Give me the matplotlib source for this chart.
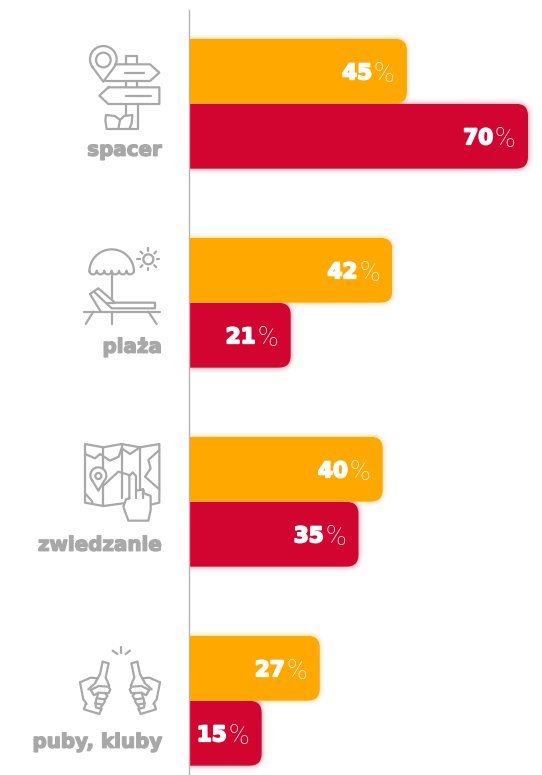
import math
import matplotlib
matplotlib.use("Agg")
import matplotlib.pyplot as plt
import matplotlib.patheffects as pe
from matplotlib.patches import FancyBboxPatch, Circle, Rectangle, Polygon

categories = ["spacer", "plaża", "zwiedzanie", "puby, kluby"]
orange_values = [45, 42, 40, 27]
red_values = [70, 21, 35, 15]

W, H = 542, 775
ORANGE, RED, GRAY = "#FFA800", "#D20530", "#A8A8A8"
PX_PER_UNIT = 4.843
PERIOD = 199.0
X0, Y0 = 189.0, 103.75
BAR_H = 64.8 / PERIOD
RADIUS_PX = 12.0

fig = plt.figure(figsize=(W / 100, H / 100), dpi=100, facecolor="white")
ax = fig.add_axes([0, 0, 1, 1])
ax.set_xlim(-X0 / PX_PER_UNIT, (W - X0) / PX_PER_UNIT)
ax.set_ylim((H - Y0) / PERIOD, -Y0 / PERIOD)
ax.set_xticks([]); ax.set_yticks([])
ax.patch.set_alpha(0)
for s in ("top", "right", "bottom"):
    ax.spines[s].set_visible(False)
ax.spines["left"].set_position(("data", 0))
ax.spines["left"].set_bounds((10 - Y0) / PERIOD, (H - Y0) / PERIOD)
ax.spines["left"].set_color("#B4B4B4")
ax.spines["left"].set_linewidth(1.0)
ax.spines["left"].set_zorder(6)

rx = RADIUS_PX / PX_PER_UNIT
ry = RADIUS_PX / PERIOD
aspect = ry / rx
right_of_axis = Rectangle((0, -2), 200, 10, transform=ax.transData)


def rounded(value, yc, grow_px=0.0, **kw):
    gx = grow_px / PX_PER_UNIT
    gy = grow_px / PERIOD
    return FancyBboxPatch(
        (-20, yc - BAR_H / 2 - gy), value + 20 + gx, BAR_H + 2 * gy,
        boxstyle=f"round,pad=0,rounding_size={rx + gx}",
        mutation_aspect=aspect, **kw)


def draw_series(values, offset, color):
    ys = [i + offset for i in range(len(values))]
    for v, y in zip(values, ys):
        for g, a in ((5, 0.035), (3.5, 0.05), (2, 0.07), (1, 0.09)):
            p = rounded(v, y, g, fc=color, ec="none", alpha=a, zorder=1)
            ax.add_patch(p)
            p.set_clip_path(right_of_axis)
    bars = ax.barh(ys, values, height=BAR_H, color=color, zorder=2)
    for b, v, y in zip(bars, values, ys):
        b.set_clip_path(rounded(v, y, 0, transform=ax.transData))
    for v, y in zip(values, ys):
        ax.annotate("%", (v, y), xytext=(-12.5, 0), textcoords="offset pixels",
                    ha="right", va="center_baseline", color="white", fontsize=20,
                    family="Roboto", weight="light", zorder=5)
        t = ax.annotate(str(v), (v, y), xytext=(-35, 0), textcoords="offset pixels",
                        ha="right", va="center_baseline", color="white", fontsize=15.5,
                        family="DejaVu Sans", weight="bold", zorder=5)
        t.set_path_effects([pe.withStroke(linewidth=1.3, foreground="white")])


draw_series(orange_values, -0.1633, ORANGE)
draw_series(red_values, 0.1633, RED)

LABEL_DY = [44.5, 42.5, 41.5, 39.5]
for i, c in enumerate(categories):
    t = ax.annotate(c, (0, i), xytext=(-27, -LABEL_DY[i]), textcoords="offset pixels",
                    ha="right", va="center_baseline", color=GRAY, fontsize=14.3,
                    family="DejaVu Sans", weight="bold", zorder=5)
    t.set_path_effects([pe.withStroke(linewidth=1.0, foreground=GRAY)])

# Decorative icons, on an overlay in pixel coordinates
ov = fig.add_axes([0, 0, 1, 1], zorder=3)
ov.set_xlim(0, W); ov.set_ylim(H, 0); ov.axis("off"); ov.patch.set_alpha(0)
LW = 1.6


def poly(ox, oy, pts, close=False, mirror=None, z=3, fill=False):
    xs = [ox + ((2 * mirror - p[0]) if mirror is not None else p[0]) / 3 for p in pts]
    ys = [oy + p[1] / 3 for p in pts]
    if fill:
        ov.add_patch(Polygon(list(zip(xs, ys)), fc="white", ec="none", zorder=z))
    if close:
        xs.append(xs[0]); ys.append(ys[0])
    ov.plot(xs, ys, color=GRAY, lw=LW, solid_capstyle="round",
            solid_joinstyle="round", zorder=z)


def circ(ox, oy, c, r, z=3.5):
    ov.add_patch(Circle((ox + c[0] / 3, oy + c[1] / 3), r / 3, fill=False, ec=GRAY, lw=LW, zorder=z))


def arc_pts(cx, cy, r, a0, a1, n=24):
    return [(cx + r * math.cos(math.radians(a0 + (a1 - a0) * k / n)),
             cy + r * math.sin(math.radians(a0 + (a1 - a0) * k / n))) for k in range(n + 1)]


# spacer
o = (70, 30)
poly(*o, arc_pts(100, 88, 40, 145, 395) + [(100, 155)], close=True)
circ(*o, (100, 90), 22)
poly(*o, [(168, 103), (168, 78), (200, 78), (200, 103)])
poly(*o, [(135, 103), (240, 103), (268, 128), (240, 153), (108, 153)])
poly(*o, [(115, 172), (268, 172), (268, 222), (115, 222), (88, 197)], close=True)
poly(*o, [(168, 153), (168, 172)]); poly(*o, [(200, 153), (200, 172)])
poly(*o, [(168, 222), (168, 255)]); poly(*o, [(205, 222), (205, 297), (110, 297)])
poly(*o, [(165, 128), (222, 128)]); poly(*o, [(168, 199), (243, 199)])
poly(*o, [(146, 199), (148, 199)])
poly(*o, [(110, 297), (106, 272), (108, 255), (135, 258), (150, 270), (145, 297)])
poly(*o, [(150, 270), (162, 258), (187, 255), (185, 280), (178, 297)])

# plaża
o = (70, 230)
poly(*o, arc_pts(125, 125, 67, 180, 360))
sc = []
for k in range(6):
    sc += arc_pts(58 + k * 22.3 + 11.15, 122, 11.15, 180, 0, 8)
poly(*o, sc)
poly(*o, [(125, 128), (125, 208)]); poly(*o, [(125, 245), (125, 282)])
circ(*o, (235, 88), 15)
for a in range(0, 360, 45):
    c, s = math.cos(math.radians(a)), math.sin(math.radians(a))
    poly(*o, [(235 + 25 * c, 88 + 25 * s), (235 + 33 * c, 88 + 33 * s)])
poly(*o, [(42, 245), (270, 245)])
poly(*o, [(60, 192), (85, 175), (135, 218), (255, 218), (255, 235), (125, 235), (75, 188)])
poly(*o, [(60, 192), (92, 245)]); poly(*o, [(110, 218), (135, 218)])
poly(*o, [(70, 245), (47, 282)]); poly(*o, [(235, 245), (260, 282)])

# zwiedzanie
o = (20, 430)
poly(*o, [(310, 220), (250, 228), (195, 218), (195, 42), (250, 52), (305, 42), (360, 52), (418, 42), (418, 218), (392, 224)])
poly(*o, [(250, 52), (250, 228)]); poly(*o, [(305, 42), (305, 205)])
poly(*o, [(360, 52), (360, 178)])
poly(*o, [(195, 72), (225, 85), (240, 72), (270, 92), (296, 80), (305, 55)])
poly(*o, [(305, 55), (330, 72), (360, 52)])
poly(*o, [(418, 60), (385, 90), (392, 115), (375, 140), (418, 178)])
poly(*o, arc_pts(235, 136, 24, 140, 400) + [(235, 182)], close=True, z=3.1, fill=True)
circ(*o, (235, 138), 9)
poly(*o, [(252, 165), (295, 125), (328, 135)], z=3)
poly(*o, [(195, 190), (215, 212), (218, 222)])
poly(*o, [(328, 205), (328, 138), (338, 127), (348, 138), (348, 182), (370, 178),
          (372, 190), (392, 198), (392, 240), (385, 272), (325, 272), (310, 230),
          (318, 208)], close=True, z=3.2, fill=True)
poly(*o, [(370, 178), (370, 205)], z=3.3); poly(*o, [(348, 182), (348, 205)], z=3.3)

# puby, kluby
o = (20, 630)
for m in (None, 300):
    poly(*o, [(248, 95), (266, 100), (257, 142), (268, 168)], mirror=m)
    poly(*o, [(248, 95), (240, 132), (225, 160), (205, 178)], mirror=m)
    poly(*o, [(180, 157), (212, 143), (232, 145)], mirror=m)
    poly(*o, [(180, 157), (190, 208), (200, 222)], mirror=m)
    poly(*o, [(197, 222), (192, 238), (238, 252), (245, 236)], mirror=m)
    poly(*o, [(212, 180), (236, 168), (264, 170), (271, 178), (266, 190), (235, 188), (222, 196), (212, 180)], mirror=m)
    poly(*o, [(235, 188), (230, 205), (256, 208), (262, 198), (256, 190)], mirror=m)
    poly(*o, [(230, 205), (226, 220), (248, 224), (255, 214), (252, 208)], mirror=m)
    poly(*o, [(226, 220), (228, 232), (240, 236), (248, 224)], mirror=m)
poly(*o, [(278, 62), (292, 72)]); poly(*o, [(302, 52), (302, 68)]); poly(*o, [(330, 62), (317, 72)])

fig.savefig("out.png", dpi=100, facecolor="white")
